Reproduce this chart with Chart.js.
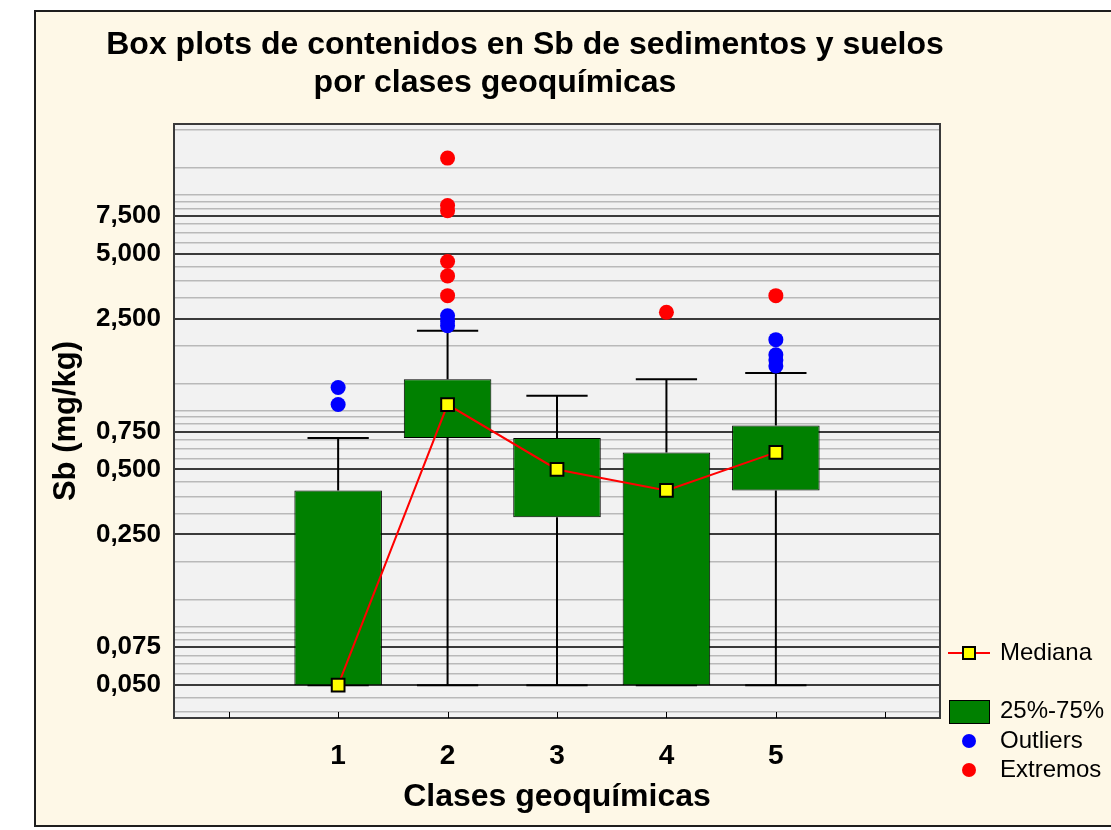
<!DOCTYPE html>
<html>
<head>
<meta charset="utf-8">
<script src="https://cdn.jsdelivr.net/npm/chart.js@4.4.0/dist/chart.umd.min.js"></script>
<style>
  body { margin: 0; background: #fff; overflow: hidden; }
  canvas { display: block; }
</style>
</head>
<body>
<canvas id="chart" width="1111" height="830"></canvas>
<script>
// Clases geoquímicas
const classes = [1, 2, 3, 4, 5];

// Caja 25%-75%, mediana y bigotes (mg/kg)
const q25 = [0.05, 0.70, 0.30, 0.05, 0.40];
const q75 = [0.40, 1.31, 0.70, 0.60, 0.80];
const medians = [0.05, 1.0, 0.5, 0.4, 0.6];
const whiskerLow = [0.05, 0.05, 0.05, 0.05, 0.05];
const whiskerHigh = [0.70, 2.2, 1.1, 1.31, 1.4];

// Outliers (azul)
const outlierClass = [1, 1, 2, 2, 2, 5, 5, 5, 5];
const outlierValue = [1.2, 1.0, 2.58, 2.44, 2.32, 2.0, 1.7, 1.61, 1.51];

// Extremos (rojo)
const extremeClass = [2, 2, 2, 2, 2, 2, 4, 5];
const extremeValue = [13.9, 8.38, 7.92, 4.61, 3.95, 3.2, 2.68, 3.2];

// Eje Y logarítmico: líneas de rejilla y etiquetas
const yGridValues = [0.0375, 0.04375, 0.05, 0.05625, 0.0625, 0.06875, 0.075, 0.08125, 0.0875, 0.09375,
  0.125, 0.1875, 0.25, 0.3125, 0.375, 0.4375, 0.5, 0.5625, 0.625, 0.6875, 0.75, 0.8125, 0.875, 0.9375,
  1.25, 1.875, 2.5, 3.125, 3.75, 4.375, 5, 5.625, 6.25, 6.875, 7.5, 8.125, 8.75, 9.375, 12.5, 18.75];
const yLabeled = [0.05, 0.075, 0.25, 0.5, 0.75, 2.5, 5, 7.5];
const xTickValues = [0, 1, 2, 3, 4, 5, 6];

const FONT = '"Liberation Sans", Arial, sans-serif';
const CAP = 0.28; // medio ancho de los topes de los bigotes (unidades de clase)

// Bigotes como una sola línea con cortes (null)
const whiskerData = [];
classes.forEach((c, i) => {
  whiskerData.push({ x: c, y: q75[i] }, { x: c, y: whiskerHigh[i] }, { x: c, y: null });
  whiskerData.push({ x: c - CAP, y: whiskerHigh[i] }, { x: c + CAP, y: whiskerHigh[i] }, { x: c, y: null });
  whiskerData.push({ x: c, y: q25[i] }, { x: c, y: whiskerLow[i] }, { x: c, y: null });
  whiskerData.push({ x: c - CAP, y: whiskerLow[i] }, { x: c + CAP, y: whiskerLow[i] }, { x: c, y: null });
});

// Fondo, marco, título, leyenda y marcas del eje X
const decorPlugin = {
  id: 'decor',
  beforeDraw(chart) {
    const { ctx, chartArea: a } = chart;
    ctx.save();
    ctx.fillStyle = '#ffffff';
    ctx.fillRect(0, 0, chart.width, chart.height);
    ctx.fillStyle = '#fef8e7';
    ctx.fillRect(35, 11, chart.width, 815);
    ctx.strokeStyle = '#1e1e1e';
    ctx.lineWidth = 2;
    ctx.strokeRect(35, 11, chart.width + 10, 815);
    ctx.fillStyle = '#f2f2f2';
    ctx.fillRect(a.left, a.top, a.right - a.left, a.bottom - a.top);
    ctx.restore();
  },
  afterDraw(chart) {
    const { ctx, chartArea: a } = chart;
    const xs = chart.scales.x;
    ctx.save();
    // marco del área de trazado
    ctx.strokeStyle = '#3a3a3a';
    ctx.lineWidth = 2;
    ctx.strokeRect(a.left, a.top, a.right - a.left, a.bottom - a.top);
    // marcas interiores del eje X
    ctx.lineWidth = 1;
    ctx.strokeStyle = '#000';
    xTickValues.forEach(v => {
      const px = Math.round(xs.getPixelForValue(v)) + 0.5;
      ctx.beginPath();
      ctx.moveTo(px, a.bottom);
      ctx.lineTo(px, a.bottom - 6);
      ctx.stroke();
    });
    // título
    ctx.fillStyle = '#000';
    ctx.font = 'bold 32px ' + FONT;
    ctx.textAlign = 'center';
    ctx.textBaseline = 'middle';
    ctx.fillText('Box plots de contenidos en Sb de sedimentos y suelos', 525, 45);
    ctx.fillText('por clases geoquímicas', 495, 83);
    // leyenda
    const mx = a.right + 29;
    const tx = a.right + 60;
    const y0 = a.bottom - 65;
    ctx.strokeStyle = '#ff0000';
    ctx.lineWidth = 2;
    ctx.beginPath();
    ctx.moveTo(mx - 21, y0);
    ctx.lineTo(mx + 21, y0);
    ctx.stroke();
    ctx.fillStyle = '#ffff00';
    ctx.fillRect(mx - 6, y0 - 6, 12, 12);
    ctx.strokeStyle = '#000';
    ctx.strokeRect(mx - 6, y0 - 6, 12, 12);
    ctx.fillStyle = '#008000';
    ctx.fillRect(mx - 20, a.bottom - 18, 40, 23);
    ctx.lineWidth = 1;
    ctx.strokeRect(mx - 20 + 0.5, a.bottom - 18 + 0.5, 40, 23);
    ctx.fillStyle = '#0000ff';
    ctx.beginPath();
    ctx.arc(mx, a.bottom + 23, 7, 0, Math.PI * 2);
    ctx.fill();
    ctx.fillStyle = '#ff0000';
    ctx.beginPath();
    ctx.arc(mx, a.bottom + 52, 7, 0, Math.PI * 2);
    ctx.fill();
    ctx.fillStyle = '#000';
    ctx.font = '24px ' + FONT;
    ctx.textAlign = 'left';
    ctx.fillText('Mediana', tx, y0);
    ctx.fillText('25%-75%', tx, a.bottom - 7);
    ctx.fillText('Outliers', tx, a.bottom + 23);
    ctx.fillText('Extremos', tx, a.bottom + 52);
    ctx.restore();
  }
};

new Chart(document.getElementById('chart'), {
  data: {
    datasets: [
      {
        type: 'bar',
        label: '25%-75%',
        data: classes.map((c, i) => ({ x: c, y: [q25[i], q75[i]] })),
        backgroundColor: '#008000',
        borderColor: '#000',
        borderWidth: 1,
        borderSkipped: false,
        barPercentage: 0.8,
        categoryPercentage: 1,
        order: 2
      },
      {
        type: 'line',
        label: 'Bigotes',
        data: whiskerData,
        borderColor: '#000',
        borderWidth: 2,
        pointRadius: 0,
        spanGaps: false,
        order: 3
      },
      {
        type: 'line',
        label: 'Mediana',
        data: classes.map((c, i) => ({ x: c, y: medians[i] })),
        borderColor: '#ff0000',
        borderWidth: 2,
        pointStyle: 'rect',
        pointRadius: 9,
        pointBackgroundColor: '#ffff00',
        pointBorderColor: '#000',
        pointBorderWidth: 2,
        order: 1
      },
      {
        type: 'scatter',
        label: 'Outliers',
        data: outlierClass.map((c, i) => ({ x: c, y: outlierValue[i] })),
        backgroundColor: '#0000ff',
        borderWidth: 0,
        pointRadius: 7.5,
        order: 0
      },
      {
        type: 'scatter',
        label: 'Extremos',
        data: extremeClass.map((c, i) => ({ x: c, y: extremeValue[i] })),
        backgroundColor: '#ff0000',
        borderWidth: 0,
        pointRadius: 7.5,
        order: 0
      }
    ]
  },
  options: {
    responsive: false,
    animation: false,
    devicePixelRatio: 1,
    layout: { padding: { left: 36, top: 124, right: 171, bottom: 4 } },
    plugins: {
      legend: { display: false },
      title: { display: false },
      tooltip: { enabled: false }
    },
    scales: {
      x: {
        type: 'linear',
        min: -0.5,
        max: 6.5,
        offset: false,
        afterBuildTicks: s => { s.ticks = xTickValues.map(v => ({ value: v })); },
        afterFit: s => { s.height = 108; },
        grid: { display: false, offset: false },
        border: { display: false },
        ticks: {
          autoSkip: false,
          padding: 13,
          color: '#000',
          font: { family: FONT, size: 28, weight: 'bold' },
          callback: v => classes.includes(v) ? String(v) : ''
        },
        title: {
          display: true,
          text: 'Clases geoquímicas',
          color: '#000',
          font: { family: FONT, size: 32, weight: 'bold' },
          padding: { top: 0, bottom: 10 }
        }
      },
      y: {
        type: 'logarithmic',
        min: 0.0352,
        max: 20,
        afterBuildTicks: s => { s.ticks = yGridValues.map(v => ({ value: v })); },
        afterFit: s => { s.width = 138; },
        border: { display: false },
        grid: {
          drawTicks: false,
          color: c => yLabeled.includes(c.tick.value) ? '#3a3a3a' : '#b9b9b9',
          lineWidth: c => yLabeled.includes(c.tick.value) ? 2 : 1.5
        },
        ticks: {
          autoSkip: false,
          padding: 13,
          color: '#000',
          font: { family: FONT, size: 26, weight: 'bold' },
          callback: v => yLabeled.includes(v) ? v.toFixed(3).replace('.', ',') : ''
        },
        title: {
          display: true,
          text: 'Sb (mg/kg)',
          color: '#000',
          font: { family: FONT, size: 31, weight: 'bold' },
          padding: { top: 12, bottom: 0 }
        }
      }
    }
  },
  plugins: [decorPlugin]
});
</script>
</body>
</html>
